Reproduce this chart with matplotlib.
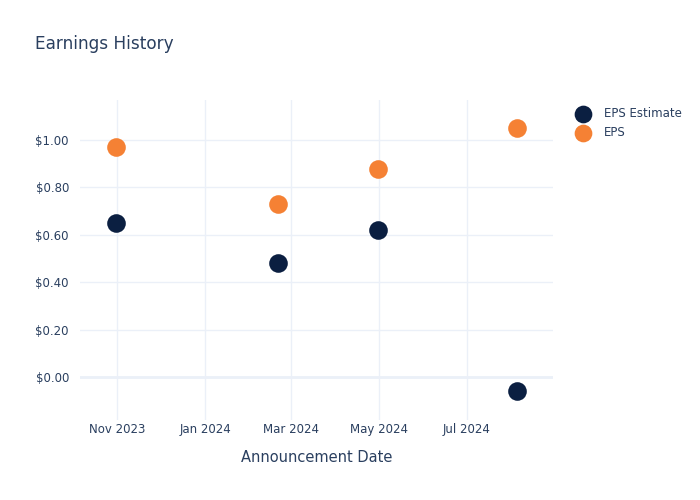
import matplotlib
matplotlib.use("Agg")
import matplotlib.pyplot as plt
import matplotlib.dates as mdates
import pandas as pd

# data
dates = pd.to_datetime(["2023-10-31", "2024-02-21", "2024-04-30", "2024-08-05"])
eps_estimate = [0.65, 0.48, 0.62, -0.06]
eps_actual = [0.97, 0.73, 0.88, 1.05]
tick_dates = pd.to_datetime(["2023-11-01", "2024-01-01", "2024-03-01", "2024-05-01", "2024-07-01"])
y_ticks = [0.0, 0.2, 0.4, 0.6, 0.8, 1.0]

TEXT = "#2a3f5f"
GRID = "#ebf0f8"
NAVY = "#0b1f41"
ORANGE = "#f58134"


def main():
    plt.rcParams["font.family"] = ["DejaVu Sans"]

    fig = plt.figure(figsize=(7, 5), dpi=100)
    ax = fig.add_axes([0.1143, 0.16, 0.6757, 0.64])

    ax.scatter(dates, eps_estimate, s=180, color=NAVY, zorder=3, label="EPS Estimate", linewidths=0)
    ax.scatter(dates, eps_actual, s=180, color=ORANGE, zorder=3, label="EPS", linewidths=0)

    ax.set_xlim(pd.Timestamp("2023-10-06"), pd.Timestamp("2024-08-30"))
    ax.set_ylim(-0.181, 1.169)

    ax.set_xticks(tick_dates)
    ax.xaxis.set_major_formatter(mdates.DateFormatter("%b %Y"))
    ax.set_yticks(y_ticks)
    ax.set_yticklabels([f"${v:.2f}" for v in y_ticks])

    ax.grid(True, color=GRID, linewidth=1)
    ax.axhline(0, color=GRID, linewidth=2, zorder=1)
    ax.set_axisbelow(True)
    for s in ax.spines.values():
        s.set_visible(False)
    ax.tick_params(length=0, colors=TEXT, labelsize=8.5)
    ax.tick_params(axis="x", pad=2)
    ax.tick_params(axis="y", pad=8)

    ax.set_xlabel("Announcement Date", color=TEXT, fontsize=10.5, labelpad=10)

    fig.text(0.05, 0.912, "Earnings History", color=TEXT, fontsize=12.2, va="center")

    leg = ax.legend(loc="upper left", bbox_to_anchor=(1.028, 0.993), frameon=False,
                    fontsize=8.5, handletextpad=0.8, labelspacing=0.5, markerscale=0.95,
                    borderaxespad=0.0)
    for t in leg.get_texts():
        t.set_color(TEXT)

    plt.savefig("out.png", dpi=100)
    plt.close()


if __name__ == "__main__":
    main()
